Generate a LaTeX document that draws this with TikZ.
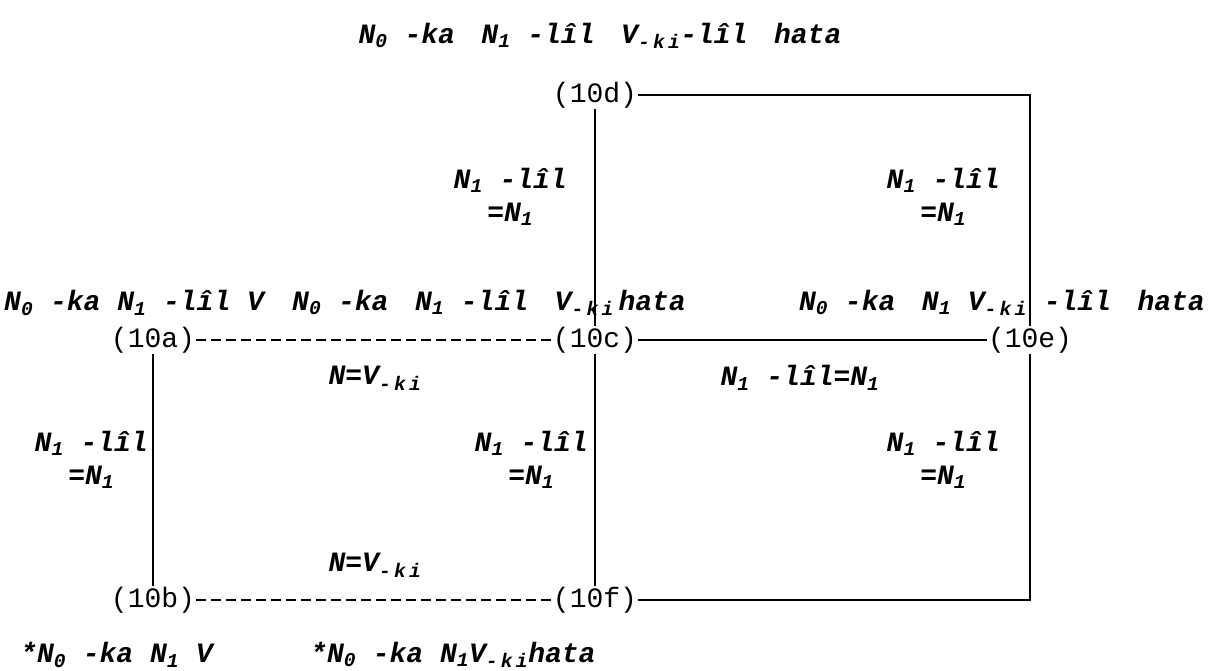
\documentclass[tikz,border=0pt]{standalone}
\usepackage{fontspec}
\setmonofont{Liberation Mono}
\usepackage{tikz}
\usetikzlibrary{positioning}
\newcommand{\Nz}{N\textsubscript{0}}
\newcommand{\No}{N\textsubscript{1}}
\newcommand{\Vki}{V\textsubscript{-\,k\,i}}
\newcommand{\wgap}{\hspace{0.95em}}

\begin{document}
\begin{tikzpicture}[x=1pt, y=-1pt,
		tag/.style={font=\ttfamily\fontsize{28}{30}\selectfont, inner sep=1pt},
		lab/.style={font=\ttfamily\bfseries\itshape\fontsize{28}{33}\selectfont, inner sep=0pt, align=center},
		link/.style={line width=2pt},
		dlink/.style={line width=1.8pt, dash pattern=on 10pt off 5pt}]
			\useasboundingbox (0,0) rectangle (1210,671);
			\def\xl{153}
			\def\xc{595}
			\def\xr{1030}

			% the six points
			\node[tag] (n10d) at (\xc, 95) {(10d)};
			\node[tag] (n10a) at (\xl, 340) {(10a)};
			\node[tag] (n10c) at (\xc, 340) {(10c)};
			\node[tag] (n10e) at (\xr, 340) {(10e)};
			\node[tag] (n10b) at (\xl, 600) {(10b)};
			\node[tag] (n10f) at (\xc, 600) {(10f)};

			% connections
			\draw[link] (n10d.east) -| (n10e.north);
			\draw[link] (n10d.south) -- (n10c.north);
			\draw[dlink] (n10a.east) -- (n10c.west);
			\draw[link] (n10c.east) -- (n10e.west);
			\draw[link] (n10a.south) -- (n10b.north);
			\draw[link] (n10c.south) -- (n10f.north);
			\draw[dlink] (n10b.east) -- (n10f.west);
			\draw[link] (n10f.east) -| (n10e.south);

			% sentences
			\node[lab] (top) at (600, 36) {\Nz{} -ka\wgap\No{} -lîl\wgap\Vki{}-lîl\wgap hata};
			\node[lab, anchor=west] (sa) at (4, 303) {\Nz{} -ka \No{} -lîl V};
			\node[lab, anchor=west] (sc) at (292, 303) {\Nz{} -ka\wgap\No{} -lîl\wgap\Vki{}\,hata};
			\node[lab, anchor=east] (se) at (1205, 303) {\Nz{} -ka\wgap\No{} \Vki{} -lîl\wgap hata};
			\node[lab, anchor=west] (sb) at (20, 655) {*\Nz{} -ka \No{} V};
			\node[lab, anchor=west] (sf) at (310, 655) {*\Nz{} -ka \No{}\Vki{}hata};

			% edge labels
			\node[lab, anchor=east] (ldc) at (567, 197) {\No{} -lîl\\=\No{}};
			\node[lab, anchor=east] (lde) at (1000, 197) {\No{} -lîl\\=\No{}};
			\node[lab] (lac) at (375, 378) {N=\Vki};
			\node[lab] (lce) at (800, 378) {\No{} -lîl=\No{}};
			\node[lab, anchor=east] (lab) at (148, 460) {\No{} -lîl\\=\No{}};
			\node[lab, anchor=east] (lcf) at (588, 460) {\No{} -lîl\\=\No{}};
			\node[lab, anchor=east] (lef) at (1000, 460) {\No{} -lîl\\=\No{}};
			\node[lab] (lbf) at (375, 565) {N=\Vki};

		\end{tikzpicture}
\end{document}
